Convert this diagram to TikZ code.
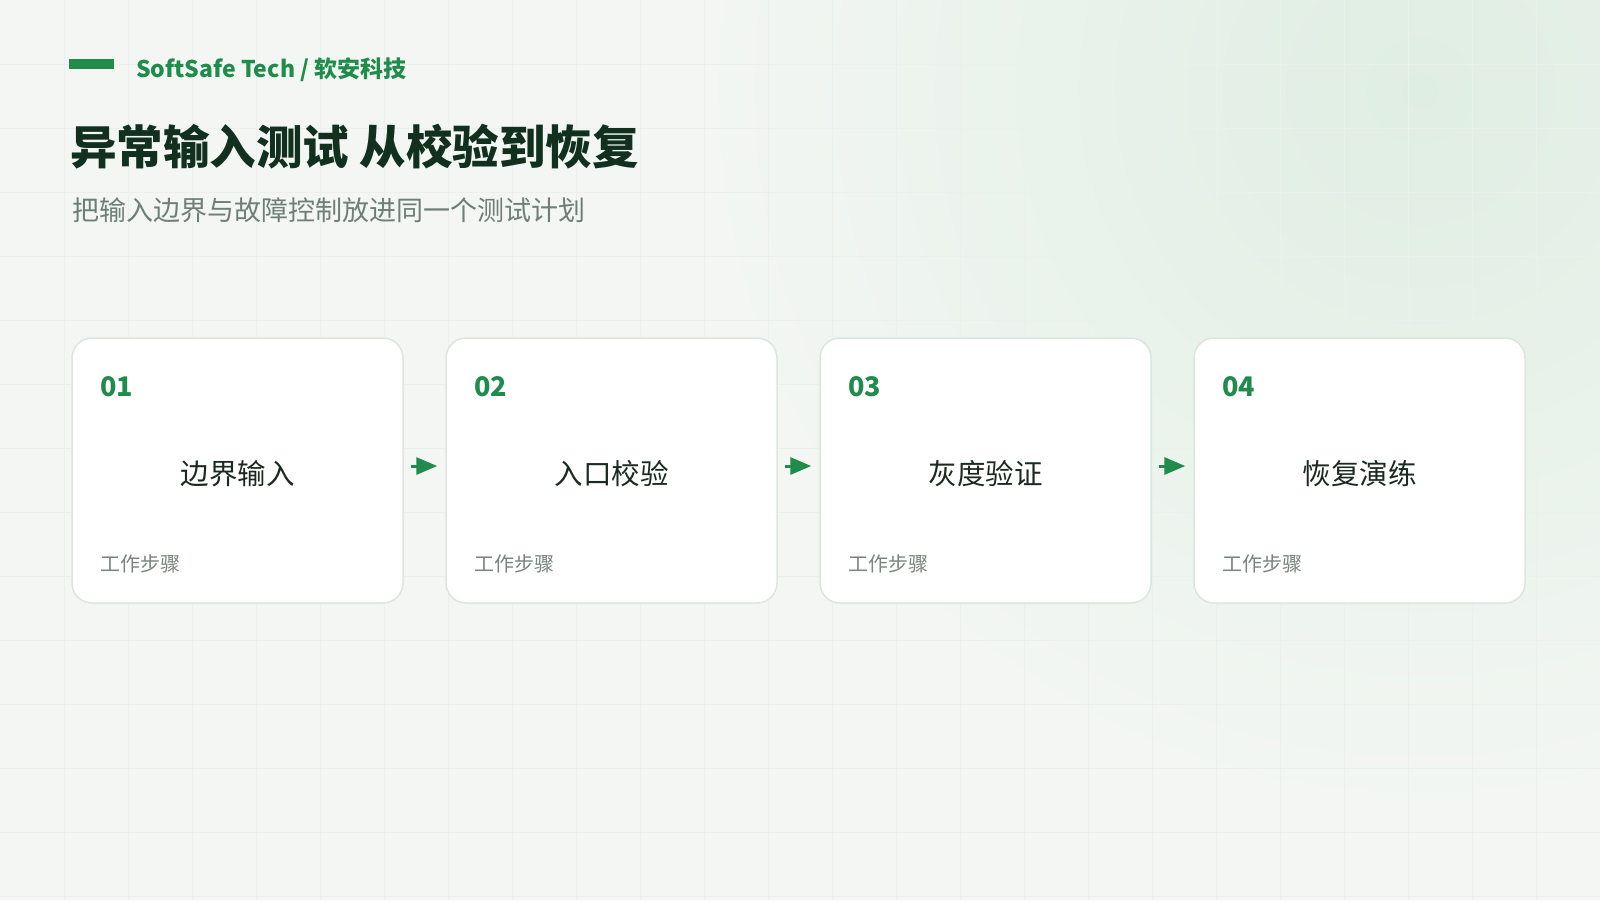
\documentclass[tikz,border=0pt]{standalone}
\usepackage{fontspec}
\setmainfont{Noto Sans CJK SC}
\usetikzlibrary{arrows.meta,positioning}
\definecolor{bgpage}{HTML}{F3F6F3}
\definecolor{gridc}{HTML}{EBF0EC}
\definecolor{glow}{HTML}{DFEEE3}
\definecolor{brand}{HTML}{1F8C4B}
\definecolor{titlec}{HTML}{11301D}
\definecolor{subc}{HTML}{6E8075}
\definecolor{cardline}{HTML}{DCE6DF}
\definecolor{stepc}{HTML}{1B2A21}
\definecolor{notec}{HTML}{78847D}
\tikzset{
  card/.style={draw=cardline, line width=1.5pt, fill=white, rounded corners=20pt,
    minimum width=331pt, minimum height=265pt, inner sep=0pt},
  numtxt/.style={anchor=west, inner sep=0pt, text=brand, font=\fontsize{27}{30}\selectfont\bfseries},
  steptxt/.style={inner sep=0pt, text=stepc, font=\fontsize{28.5}{32}\selectfont},
  notetxt/.style={anchor=west, inner sep=0pt, text=notec, font=\fontsize{20}{24}\selectfont},
  flow/.style={draw=brand, line width=3pt, -{Triangle[length=21pt,width=17pt]}, shorten <=7pt, shorten >=8pt}
}
\begin{document}
\begin{tikzpicture}[x=1pt,y=-1pt]
  \useasboundingbox (0,0) rectangle (1600,900);
  \fill[bgpage] (0,0) rectangle (1600,900);
  % soft glow top right
  \begin{scope}
    \clip (0,0) rectangle (1600,900);
    \shade[inner color=glow, outer color=bgpage] (1420,90) circle (720);
  \end{scope}
  % background grid
  \foreach \gx in {64,128,...,1600}
    \draw[gridc, line width=1pt] (\gx,0) -- (\gx,900);
  \foreach \gy in {64,128,...,896}
    \draw[gridc, line width=1pt] (0,\gy) -- (1600,\gy);

  % header
  \fill[brand] (69,59) rectangle (114,69);
  \node[anchor=west, inner sep=0pt, text=brand, font=\fontsize{23}{27}\selectfont\bfseries] (brandname) at (136,70) {SoftSafe Tech / 软安科技};
  \node[anchor=west, inner sep=0pt, text=titlec, font=\fontsize{46.5}{54}\selectfont\bfseries] (title) at (70,147) {异常输入测试 从校验到恢复};
  \node[anchor=west, inner sep=0pt, text=subc, font=\fontsize{27}{32}\selectfont] (subtitle) at (72,210) {把输入边界与故障控制放进同一个测试计划};

  % cards
  \foreach \i/\cx/\lbl in {1/237.5/边界输入, 2/611.5/入口校验, 3/985.5/灰度验证, 4/1359.5/恢复演练} {
    \node[card] (c\i) at (\cx,470.5) {};
    \node[numtxt] (n\i) at (\cx-137.5,387) {0\i};
    \node[steptxt] (s\i) at (\cx,474) {\lbl};
    \node[notetxt] (w\i) at (\cx-137.5,564) {工作步骤};
  }

  % arrows
  \foreach \a/\b in {1/2, 2/3, 3/4}
    \draw[flow] ([yshift=4.5pt]c\a.east) -- ([yshift=4.5pt]c\b.west);
\end{tikzpicture}
\end{document}
